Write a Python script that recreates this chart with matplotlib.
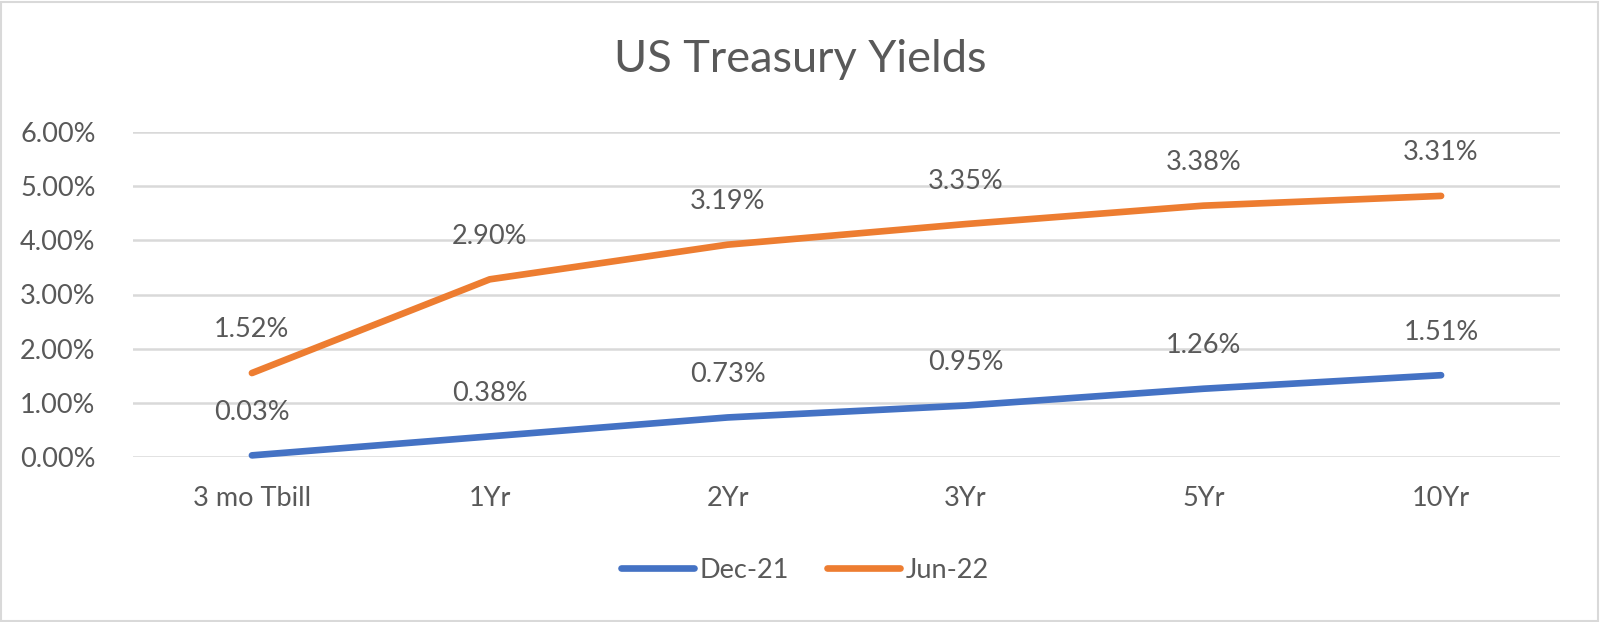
import numpy as np
import matplotlib
matplotlib.use('Agg')
import matplotlib.pyplot as plt
from matplotlib.patches import Rectangle

# yields chart, Excel style stacked line (Jun-22 sits on top of Dec-21)
categories = ["3 mo Tbill", "1Yr", "2Yr", "3Yr", "5Yr", "10Yr"]
dec21 = [0.03, 0.38, 0.73, 0.95, 1.26, 1.51]
jun22 = [1.52, 2.90, 3.19, 3.35, 3.38, 3.31]
yticks = [0, 1, 2, 3, 4, 5, 6]

plt.rcParams['font.family'] = ['Lato', 'DejaVu Sans']
txt = "#595959"
blue = "#4472C4"
orange = "#ED7D31"
fs = 19.5

fig = plt.figure(figsize=(16, 6.22), dpi=100)
ax = fig.add_axes([133/1600, 1-457/622, (1560-133)/1600, (457-132)/622])

x = np.arange(len(categories))
dec = np.array(dec21)
jun = dec + np.array(jun22)

ax.plot(x, dec, color=blue, lw=4.8, solid_capstyle='round', clip_on=False, label="Dec-21")
ax.plot(x, jun, color=orange, lw=4.8, solid_capstyle='round', clip_on=False, label="Jun-22")

for xi, yi, v in zip(x, dec, dec21):
    ax.annotate(f"{v:.2f}%", (xi, yi), xytext=(0, 31), textcoords='offset points',
                ha='center', va='center', fontsize=fs, color=txt)
for xi, yi, v in zip(x, jun, jun22):
    ax.annotate(f"{v:.2f}%", (xi, yi), xytext=(0, 31), textcoords='offset points',
                ha='center', va='center', fontsize=fs, color=txt)

ax.set_xlim(-0.5, len(categories) - 0.5)
ax.set_ylim(0, 6)
ax.set_yticks(yticks)
ax.set_yticklabels([f"{t:.2f}%" for t in yticks], fontsize=fs, color=txt)
ax.set_xticks(x)
ax.set_xticklabels(categories, fontsize=fs, color=txt)
ax.tick_params(length=0, pad=21)
ax.tick_params(axis='y', pad=27)
ax.grid(axis='y', color="#D9D9D9", lw=1.8)
ax.set_axisbelow(True)
for s in ax.spines.values():
    s.set_visible(False)

fig.text(800/1600, 1-60/622, "US Treasury Yields", ha='center', va='center', fontsize=32.5, color=txt)

leg = fig.legend(loc='center', bbox_to_anchor=(805/1600, 1-570/622), ncol=2, frameon=False,
                 fontsize=fs, labelcolor=txt, handlelength=2.7, handletextpad=0.2, columnspacing=1.4)

fig.add_artist(Rectangle((1/1600, 1/622), 1597/1600, 619/622, transform=fig.transFigure,
                         fill=False, edgecolor="#D9D9D9", lw=1.5))

fig.savefig("out.png", dpi=100)
